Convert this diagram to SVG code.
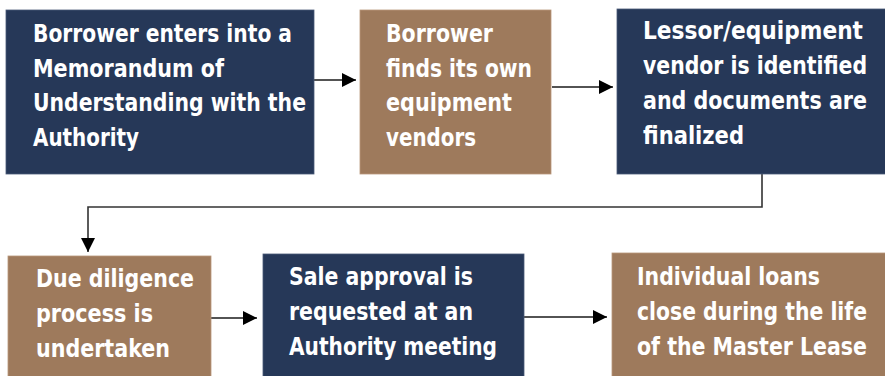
<svg xmlns="http://www.w3.org/2000/svg" width="885" height="376" viewBox="0 0 885 376">
<defs>
<style>
.navy{fill:#263858;stroke:#4a5a78;stroke-width:0.8}
.brown{fill:#9e7a5c;stroke:#b8977a;stroke-width:0.8}
.t{font-family:"Liberation Sans Narrow","DejaVu Sans Condensed","Liberation Sans",sans-serif;font-weight:bold;font-size:24px;fill:#ffffff}
.c{fill:none;stroke:#1a1a1a;stroke-width:1.6}
</style>
<marker id="ah" viewBox="0 0 10 10" refX="10" refY="5" markerWidth="10" markerHeight="10" markerUnits="userSpaceOnUse" orient="auto">
<path d="M0,0 L10,5 L0,10 z" fill="#000"/>
</marker>
<marker id="ah2" viewBox="0 0 14 14" refX="14" refY="7" markerWidth="14" markerHeight="14" markerUnits="userSpaceOnUse" orient="auto">
<path d="M0,0 L14,7 L0,14 z" fill="#000"/>
</marker>
</defs>
<g id="connectors">
<path class="c" d="M314,80 H356" marker-end="url(#ah2)"/>
<path class="c" d="M552,87 H613" marker-end="url(#ah2)"/>
<path class="c" d="M762,174 V207 H88 V252" style="stroke:#333" marker-end="url(#ah2)"/>
<path class="c" d="M211,318 H257" marker-end="url(#ah2)"/>
<path class="c" d="M524,317 H607" marker-end="url(#ah2)"/>
</g>
<g id="n1">
<rect class="navy" x="6" y="10" width="308" height="164"/>
<text class="t"><tspan x="33" y="42" textLength="259" lengthAdjust="spacingAndGlyphs">Borrower enters into a</tspan><tspan x="33" y="76.5" textLength="191" lengthAdjust="spacingAndGlyphs">Memorandum of</tspan><tspan x="33" y="111" textLength="273" lengthAdjust="spacingAndGlyphs">Understanding with the</tspan><tspan x="33" y="145.5" textLength="106" lengthAdjust="spacingAndGlyphs">Authority</tspan></text>
</g>
<g id="n2">
<rect class="brown" x="360" y="10" width="191" height="164"/>
<text class="t"><tspan x="386" y="42" textLength="107" lengthAdjust="spacingAndGlyphs">Borrower</tspan><tspan x="386" y="76.5" textLength="146" lengthAdjust="spacingAndGlyphs">finds its own</tspan><tspan x="386" y="111" textLength="126" lengthAdjust="spacingAndGlyphs">equipment</tspan><tspan x="386" y="145.5" textLength="90" lengthAdjust="spacingAndGlyphs">vendors</tspan></text>
</g>
<g id="n3">
<rect class="navy" x="617" y="9" width="270" height="165"/>
<text class="t"><tspan x="643" y="39" textLength="220" lengthAdjust="spacingAndGlyphs">Lessor/equipment</tspan><tspan x="643" y="74" textLength="224" lengthAdjust="spacingAndGlyphs">vendor is identified</tspan><tspan x="643" y="109" textLength="224" lengthAdjust="spacingAndGlyphs">and documents are</tspan><tspan x="643" y="144" textLength="101" lengthAdjust="spacingAndGlyphs">finalized</tspan></text>
</g>
<g id="n4">
<rect class="brown" x="8" y="256" width="203" height="122"/>
<text class="t"><tspan x="36" y="287" textLength="158" lengthAdjust="spacingAndGlyphs">Due diligence</tspan><tspan x="36" y="322" textLength="117" lengthAdjust="spacingAndGlyphs">process is</tspan><tspan x="36" y="357" textLength="134" lengthAdjust="spacingAndGlyphs">undertaken</tspan></text>
</g>
<g id="n5">
<rect class="navy" x="263" y="254" width="261" height="124"/>
<text class="t"><tspan x="289" y="285" textLength="184" lengthAdjust="spacingAndGlyphs">Sale approval is</tspan><tspan x="289" y="320" textLength="184" lengthAdjust="spacingAndGlyphs">requested at an</tspan><tspan x="289" y="355" textLength="208" lengthAdjust="spacingAndGlyphs">Authority meeting</tspan></text>
</g>
<g id="n6">
<rect class="brown" x="612" y="253" width="275" height="125"/>
<text class="t"><tspan x="637" y="285" textLength="183" lengthAdjust="spacingAndGlyphs">Individual loans</tspan><tspan x="637" y="320" textLength="230" lengthAdjust="spacingAndGlyphs">close during the life</tspan><tspan x="637" y="355" textLength="230" lengthAdjust="spacingAndGlyphs">of the Master Lease</tspan></text>
</g>
</svg>
